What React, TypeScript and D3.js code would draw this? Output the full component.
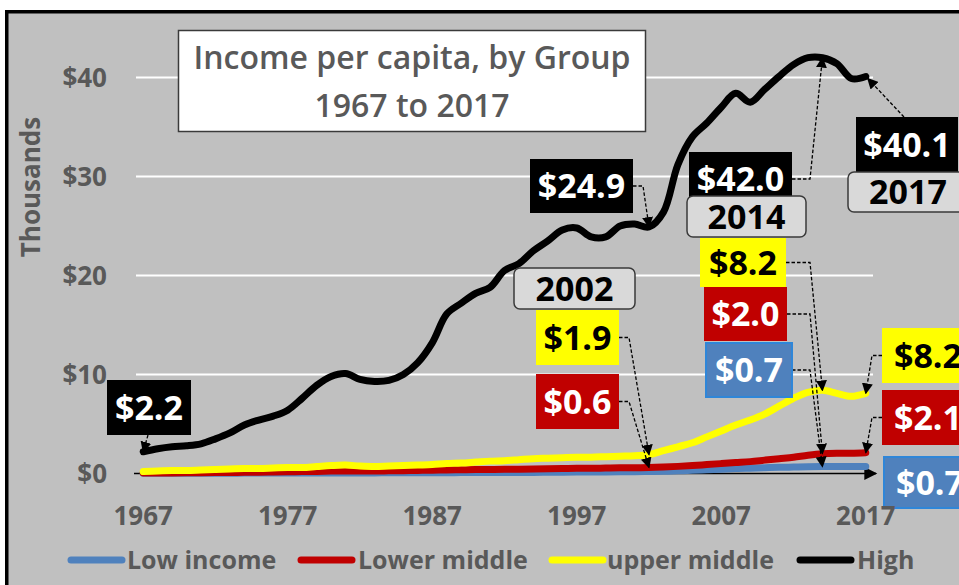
import React from "react";
import * as d3 from "d3";

const YEARS = [
  1967, 1968, 1969, 1970, 1971, 1972, 1973, 1974, 1975, 1976,
  1977, 1978, 1979, 1980, 1981, 1982, 1983, 1984, 1985, 1986,
  1987, 1988, 1989, 1990, 1991, 1992, 1993, 1994, 1995, 1996,
  1997, 1998, 1999, 2000, 2001, 2002, 2003, 2004, 2005, 2006,
  2007, 2008, 2009, 2010, 2011, 2012, 2013, 2014, 2015, 2016, 2017,
];

// thousands of dollars
const LOW_INCOME = [
  0.02, 0.02, 0.02, 0.03, 0.03, 0.03, 0.03, 0.04, 0.04, 0.04,
  0.05, 0.05, 0.05, 0.06, 0.06, 0.06, 0.06, 0.07, 0.07, 0.07,
  0.08, 0.08, 0.09, 0.09, 0.1, 0.1, 0.11, 0.11, 0.12, 0.13,
  0.14, 0.15, 0.16, 0.17, 0.18, 0.2, 0.22, 0.27, 0.32, 0.38,
  0.44, 0.5, 0.54, 0.58, 0.62, 0.65, 0.68, 0.7, 0.7, 0.7, 0.7,
];
const LOWER_MIDDLE = [
  0.05, 0.05, 0.06, 0.07, 0.08, 0.09, 0.1, 0.12, 0.13, 0.15,
  0.17, 0.19, 0.21, 0.24, 0.26, 0.25, 0.25, 0.27, 0.29, 0.31,
  0.33, 0.36, 0.38, 0.4, 0.41, 0.42, 0.44, 0.46, 0.48, 0.5,
  0.52, 0.53, 0.55, 0.57, 0.58, 0.6, 0.65, 0.72, 0.8, 0.9,
  1.0, 1.1, 1.2, 1.35, 1.5, 1.65, 1.85, 2.0, 2.05, 2.05, 2.1,
];
const UPPER_MIDDLE = [
  0.2, 0.25, 0.3, 0.3, 0.35, 0.4, 0.45, 0.5, 0.5, 0.55,
  0.6, 0.6, 0.7, 0.8, 0.85, 0.75, 0.7, 0.75, 0.8, 0.85,
  0.9, 1.0, 1.05, 1.15, 1.25, 1.3, 1.4, 1.5, 1.55, 1.6,
  1.65, 1.65, 1.7, 1.75, 1.8, 1.9, 2.3, 2.7, 3.1, 3.7,
  4.3, 4.9, 5.4, 6.0, 6.8, 7.6, 8.2, 8.4, 8.1, 7.8, 8.1,
];
const HIGH = [
  2.2, 2.5, 2.7, 2.8, 3.0, 3.5, 4.1, 4.9, 5.4, 5.8,
  6.4, 7.6, 8.9, 9.8, 10.1, 9.5, 9.3, 9.4, 10.0, 11.2,
  13.2, 16.1, 17.2, 18.2, 18.8, 20.5, 21.2, 22.5, 23.5, 24.6,
  24.8, 23.9, 23.9, 25.0, 25.2, 24.9, 26.4, 31.2, 34.0, 35.4,
  37.0, 38.4, 37.5, 38.8, 40.1, 41.3, 42.0, 42.0, 41.4, 39.9, 40.1,
];

const SERIES_NAMES = ["Low income", "Lower middle", "upper middle", "High"];
const SERIES_VALUES = [LOW_INCOME, LOWER_MIDDLE, UPPER_MIDDLE, HIGH];

const Y_TICKS = [0, 10, 20, 30, 40];
const X_TICK_YEARS = [1967, 1977, 1987, 1997, 2007, 2017];
const TITLE_LINES = ["Income per capita, by Group", "1967 to 2017"];
const Y_AXIS_TITLE = "Thousands";

// value call-outs: [series index, year, text]
const CALLOUT_SERIES = [3, 3, 2, 1, 3, 2, 1, 0, 3, 2, 1, 0];
const CALLOUT_YEARS = [1967, 2002, 2002, 2002, 2014, 2014, 2014, 2014, 2017, 2017, 2017, 2017];
const CALLOUT_TEXT = ["$2.2", "$24.9", "$1.9", "$0.6", "$42.0", "$8.2", "$2.0", "$0.7", "$40.1", "$8.2", "$2.1", "$0.7"];
const YEAR_TAGS = ["2002", "2014", "2017"];

// ---------- styling / layout ----------
const W = 959;
const H = 585;
const FONT = "'Open Sans', sans-serif";
const GREY_TEXT = "#595959";
const COLORS = ["#4f81bd", "#c00000", "#ffff00", "#000000"];
const BOX_FILL = ["#4f81bd", "#c00000", "#ffff00", "#000000"];
const BOX_TEXT = ["#ffffff", "#ffffff", "#000000", "#ffffff"];

// call-out box layout: x, y, w, h, elbow dx (relative to box edge)
const CALLOUT_BOX = [
  { x: 107, y: 380, w: 84, h: 55, from: "bottom" },
  { x: 530, y: 159, w: 103, h: 54, from: "right", elbow: 643 },
  { x: 536, y: 310, w: 83, h: 55, from: "right", elbow: 629 },
  { x: 536, y: 374, w: 83, h: 55, from: "right", elbow: 629 },
  { x: 689, y: 152, w: 103, h: 54, from: "right", elbow: 810 },
  { x: 700, y: 238, w: 86, h: 49, from: "right", elbow: 810 },
  { x: 704, y: 287, w: 83, h: 54, from: "right", elbow: 810 },
  { x: 706, y: 343, w: 86, h: 54, from: "right", elbow: 810 },
  { x: 856, y: 117, w: 102, h: 55, from: "topdiag" },
  { x: 882, y: 328, w: 92, h: 55, from: "left", elbow: 872 },
  { x: 882, y: 390, w: 92, h: 55, from: "left", elbow: 872 },
  { x: 884, y: 457, w: 92, h: 51, from: "none" },
];
const TAG_BOX = [
  { x: 514, y: 268, w: 121, h: 41 },
  { x: 687, y: 196, w: 119, h: 41 },
  { x: 848, y: 172, w: 120, h: 40 },
];
const LEGEND_SWATCH_X = [68, 298, 549, 797];
const LEGEND_TEXT_X = [127, 358, 607, 857];

export default function App() {
  const x = d3.scalePoint<number>().domain(YEARS).range([136, 873]).padding(0.5);
  const y = d3.scaleLinear().domain([0, 40]).range([473.5, 77.5]);

  const line = d3
    .line<number>()
    .x((_, i) => x(YEARS[i]) as number)
    .y((d) => y(d))
    .curve(d3.curveCatmullRom.alpha(0.5));

  const pointOf = (s: number, yr: number) => {
    const i = YEARS.indexOf(yr);
    return [x(yr) as number, y(SERIES_VALUES[s][i])];
  };

  const leaders = CALLOUT_BOX.map((b, k) => {
    const [tx, ty] = pointOf(CALLOUT_SERIES[k], CALLOUT_YEARS[k]);
    const cy = b.y + b.h / 2;
    if (b.from === "bottom") return `M${b.x + 41},${b.y + b.h} L${tx},${ty}`;
    if (b.from === "right") return `M${b.x + b.w},${cy} L${b.elbow},${cy} L${tx},${ty}`;
    if (b.from === "left") return `M${b.x},${cy} L${b.elbow},${cy} L${tx},${ty}`;
    if (b.from === "topdiag") return `M${b.x + 48},${b.y} L${tx + 2},${ty + 2}`;
    return null;
  });

  const labelFs = 34;

  return (
    <svg
      width={W}
      height={H}
      style={{ position: "absolute", left: 0, top: 0, fontFamily: FONT }}
      xmlns="http://www.w3.org/2000/svg"
    >
      <defs>
        <marker id="arr" viewBox="0 0 10 10" refX="9" refY="5" markerWidth="11" markerHeight="11" markerUnits="userSpaceOnUse" orient="auto">
          <path d="M0,0 L10,5 L0,10 z" fill="#000" />
        </marker>
        <marker id="arrBig" viewBox="0 0 10 10" refX="9" refY="5" markerWidth="14" markerHeight="13" markerUnits="userSpaceOnUse" orient="auto">
          <path d="M0,0 L10,5 L0,10 z" fill="#000" />
        </marker>
      </defs>
      <rect x={0} y={0} width={W} height={H} fill="#ffffff" />
      <rect x={6.75} y={11.75} width={W + 20} height={H + 20} fill="#c0c0c0" stroke="#000" strokeWidth={3.5} />

      {/* gridlines */}
      {Y_TICKS.filter((t) => t > 0).map((t) => (
        <line key={t} x1={136} x2={873} y1={y(t)} y2={y(t)} stroke="#ffffff" strokeWidth={2} />
      ))}
      {/* horizontal axis */}
      <line x1={134} x2={876} y1={y(0)} y2={y(0)} stroke="#000" strokeWidth={1.5} markerEnd="url(#arrBig)" />

      {/* series */}
      {SERIES_VALUES.map((vals, s) => (
        <path
          key={s}
          d={line(vals) as string}
          fill="none"
          stroke={COLORS[s]}
          strokeWidth={7}
          strokeLinejoin="round"
          strokeLinecap="round"
        />
      ))}

      {/* title */}
      <rect x={178.5} y={30.5} width={467} height={101} fill="#ffffff" stroke="#3a3a3a" strokeWidth={1.5} />
      <text x={412} y={69} textAnchor="middle" fontSize={32} fontWeight={600} fill={GREY_TEXT}>
        {TITLE_LINES[0]}
      </text>
      <text x={412} y={117} textAnchor="middle" fontSize={32} fontWeight={600} fill={GREY_TEXT}>
        {TITLE_LINES[1]}
      </text>

      {/* leaders */}
      {leaders.map((d, k) =>
        d ? (
          <path key={k} d={d} fill="none" stroke="#000" strokeWidth={1.3} strokeDasharray="3.5,2" markerEnd="url(#arr)" />
        ) : null
      )}

      {/* call-out boxes */}
      {CALLOUT_BOX.map((b, k) => {
        const s = CALLOUT_SERIES[k];
        return (
          <g key={k}>
            <rect
              x={b.x}
              y={b.y}
              width={b.w}
              height={b.h}
              fill={BOX_FILL[s]}
              stroke={s === 0 ? "#2f86d8" : "none"}
              strokeWidth={s === 0 ? 2 : 0}
            />
            <text
              x={b.x + b.w / 2}
              y={b.y + b.h / 2 + 0.36 * labelFs}
              textAnchor="middle"
              fontSize={labelFs}
              fontWeight={700}
              fill={BOX_TEXT[s]}
            >
              {CALLOUT_TEXT[k]}
            </text>
          </g>
        );
      })}
      {TAG_BOX.map((b, k) => (
        <g key={k}>
          <rect x={b.x} y={b.y} width={b.w} height={b.h} rx={6} fill="#d9d9d9" stroke="#3a3a3a" strokeWidth={1.5} />
          <text x={b.x + b.w / 2} y={b.y + b.h / 2 + 0.36 * labelFs} textAnchor="middle" fontSize={labelFs} fontWeight={700} fill="#000">
            {YEAR_TAGS[k]}
          </text>
        </g>
      ))}

      {/* y axis labels */}
      {Y_TICKS.map((t) => (
        <text key={t} x={107} y={y(t) + 0.36 * 26} textAnchor="end" fontSize={26} fontWeight={700} fill={GREY_TEXT}>
          {d3.format("$")(t)}
        </text>
      ))}
      <text
        transform={`translate(${31 + 0.36 * 26},187) rotate(-90)`}
        textAnchor="middle"
        fontSize={26}
        fontWeight={700}
        fill={GREY_TEXT}
      >
        {Y_AXIS_TITLE}
      </text>

      {/* x axis labels */}
      {X_TICK_YEARS.map((yr) => (
        <text key={yr} x={x(yr) as number} y={525} textAnchor="middle" fontSize={26} fontWeight={700} fill={GREY_TEXT}>
          {yr}
        </text>
      ))}

      {/* legend */}
      {SERIES_NAMES.map((name, s) => (
        <g key={name}>
          <line
            x1={LEGEND_SWATCH_X[s] + 3}
            x2={LEGEND_SWATCH_X[s] + 54}
            y1={560}
            y2={560}
            stroke={COLORS[s]}
            strokeWidth={7}
            strokeLinecap="round"
          />
          <text x={LEGEND_TEXT_X[s]} y={569} fontSize={25} fontWeight={700} fill={GREY_TEXT}>
            {name}
          </text>
        </g>
      ))}
    </svg>
  );
}
